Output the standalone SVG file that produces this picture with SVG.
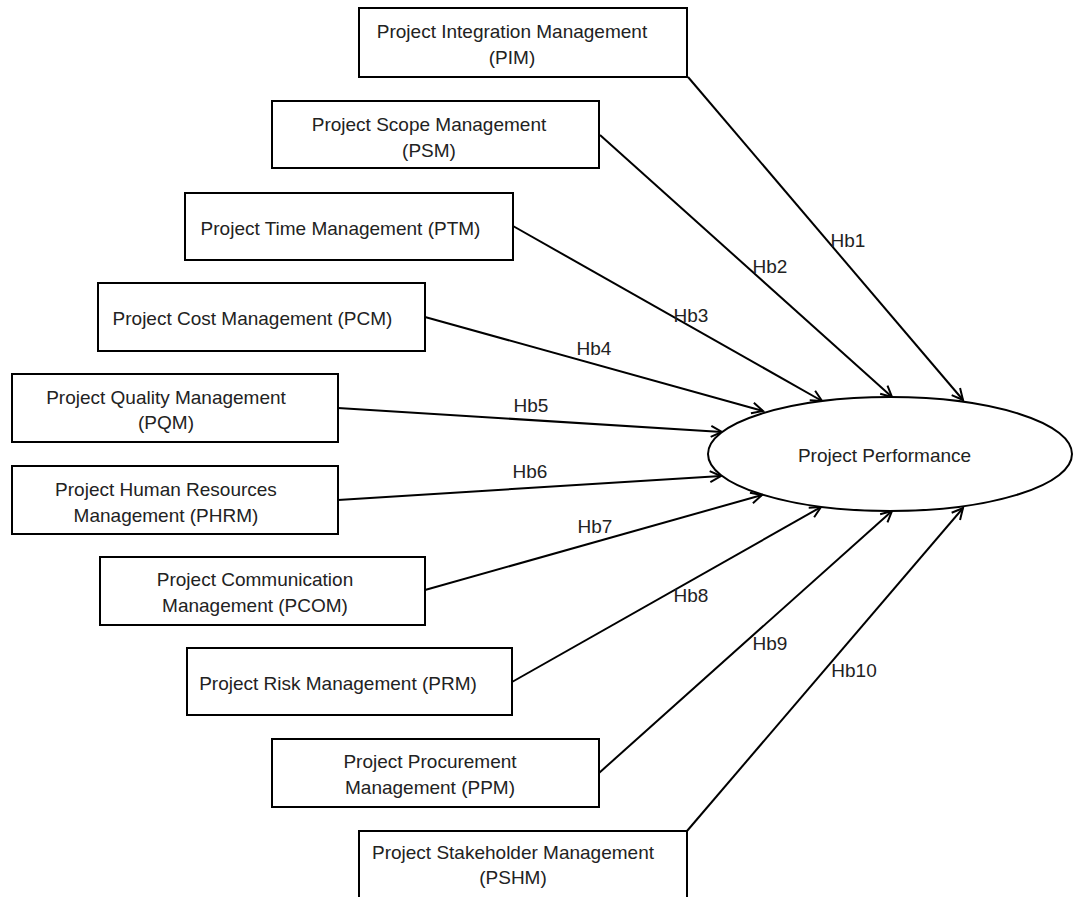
<svg xmlns="http://www.w3.org/2000/svg" width="1074" height="897" viewBox="0 0 1074 897">
<style>
.box{fill:#fff;stroke:#000;stroke-width:2}
.t{font-family:"Liberation Sans",Arial,sans-serif;font-size:19px;fill:#222;text-anchor:middle}
.c{fill:none;stroke:#000;stroke-width:2;marker-end:url(#arr)}
</style>
<defs>
<marker id="arr" viewBox="0 0 14 14" refX="12" refY="7" markerWidth="14" markerHeight="14" markerUnits="userSpaceOnUse" orient="auto">
<path d="M1,1.5 L12,7 L1,12.5" fill="none" stroke="#000" stroke-width="2"/>
</marker>
</defs>
<rect width="1074" height="897" fill="#fff"/>
<g id="connectors">
<line class="c" x1="688" y1="77" x2="963" y2="400"/>
<line class="c" x1="600" y1="135" x2="892" y2="397"/>
<line class="c" x1="513" y1="226" x2="822" y2="401"/>
<line class="c" x1="425" y1="317" x2="763" y2="411"/>
<line class="c" x1="338" y1="408" x2="722" y2="432"/>
<line class="c" x1="338" y1="500" x2="721" y2="476"/>
<line class="c" x1="425" y1="590" x2="762" y2="495"/>
<line class="c" x1="512" y1="682" x2="821" y2="507"/>
<line class="c" x1="599" y1="773" x2="892" y2="511"/>
<line class="c" x1="687" y1="831" x2="963" y2="508"/>
<text class="t" x="848" y="247">Hb1</text>
<text class="t" x="770" y="273">Hb2</text>
<text class="t" x="691" y="322">Hb3</text>
<text class="t" x="594" y="355">Hb4</text>
<text class="t" x="531" y="412">Hb5</text>
<text class="t" x="530" y="478">Hb6</text>
<text class="t" x="595" y="533">Hb7</text>
<text class="t" x="691" y="602">Hb8</text>
<text class="t" x="770" y="650">Hb9</text>
<text class="t" x="854" y="677">Hb10</text>
</g>
<g id="pim"><rect class="box" x="359" y="8" width="328" height="69"/>
<text class="t" x="512" y="38">Project Integration Management</text><text class="t" x="512" y="64">(PIM)</text></g>
<g id="psm"><rect class="box" x="272" y="101" width="327" height="67"/>
<text class="t" x="429" y="131">Project Scope Management</text><text class="t" x="429" y="157">(PSM)</text></g>
<g id="ptm"><rect class="box" x="185" y="193" width="328" height="67"/>
<text class="t" x="340.5" y="235">Project Time Management (PTM)</text></g>
<g id="pcm"><rect class="box" x="98" y="283" width="327" height="68"/>
<text class="t" x="252.5" y="325">Project Cost Management (PCM)</text></g>
<g id="pqm"><rect class="box" x="12" y="374" width="326" height="68"/>
<text class="t" x="166" y="404">Project Quality Management</text><text class="t" x="166" y="429">(PQM)</text></g>
<g id="phrm"><rect class="box" x="12" y="466" width="326" height="68"/>
<text class="t" x="166" y="496">Project Human Resources</text><text class="t" x="166" y="522">Management (PHRM)</text></g>
<g id="pcom"><rect class="box" x="100" y="557" width="325" height="68"/>
<text class="t" x="255" y="586">Project Communication</text><text class="t" x="255" y="612">Management (PCOM)</text></g>
<g id="prm"><rect class="box" x="187" y="648" width="325" height="67"/>
<text class="t" x="338" y="690">Project Risk Management (PRM)</text></g>
<g id="ppm"><rect class="box" x="272" y="739" width="327" height="68"/>
<text class="t" x="430" y="768">Project Procurement</text><text class="t" x="430" y="794">Management (PPM)</text></g>
<g id="pshm"><rect class="box" x="359" y="831" width="328" height="68"/>
<text class="t" x="513" y="859">Project Stakeholder Management</text><text class="t" x="513" y="884">(PSHM)</text></g>
<g id="pp"><ellipse class="box" cx="890" cy="454" rx="182" ry="57"/>
<text class="t" x="884.5" y="462">Project Performance</text></g>
</svg>
